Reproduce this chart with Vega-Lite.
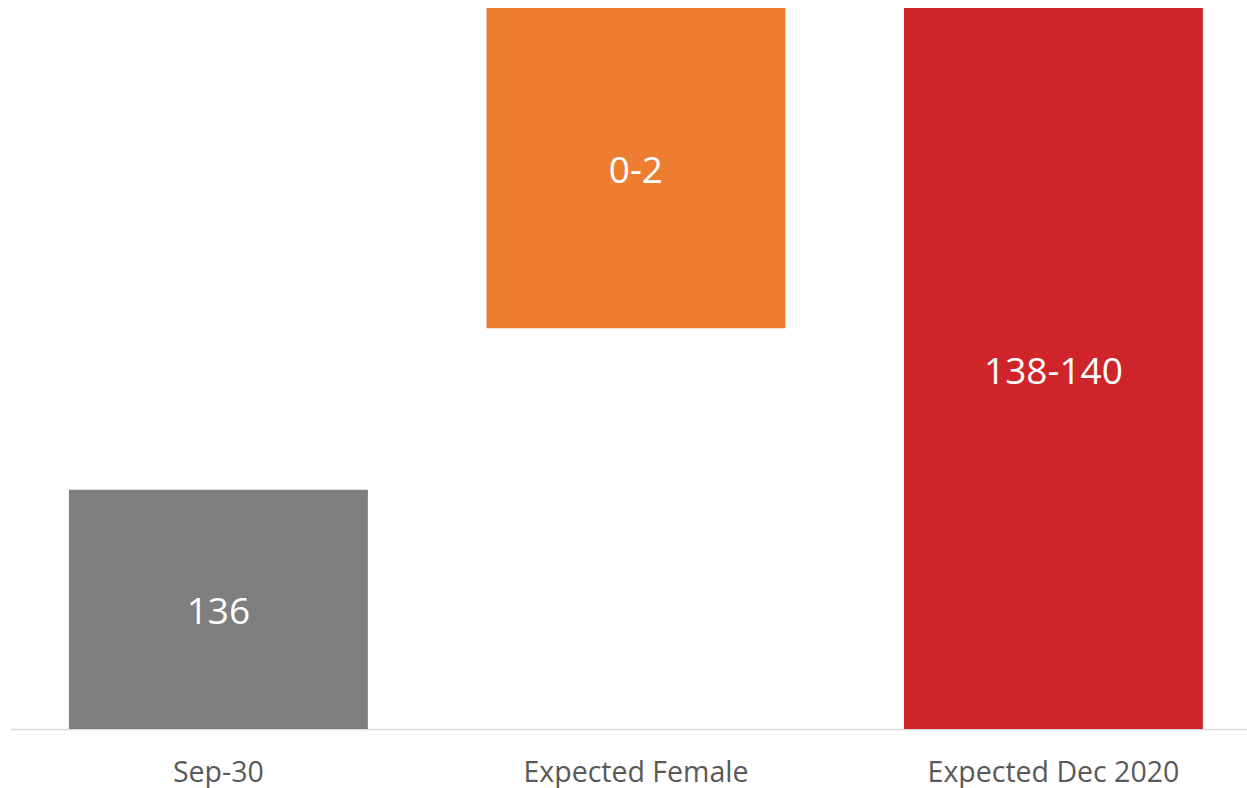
{
  "$schema": "https://vega.github.io/schema/vega-lite/v6.json",
  "autosize": "none",
  "width": 1237,
  "height": 721,
  "padding": {"left": 10, "top": 8, "right": 0, "bottom": 59},
  "background": "white",
  "config": {"view": {"stroke": null}},
  "data": {
    "values": [
      {"category": "Sep-30", "start": 134, "end": 135.99, "label": "136", "kind": "base"},
      {"category": "Expected Female", "start": 137.335, "end": 140, "label": "0-2", "kind": "change"},
      {"category": "Expected Dec 2020", "start": 134, "end": 140, "label": "138-140", "kind": "total"}
    ]
  },
  "transform": [{"calculate": "(datum.start + datum.end) / 2", "as": "mid"}],
  "encoding": {
    "x": {
      "field": "category",
      "type": "nominal",
      "sort": null,
      "scale": {"paddingInner": 0.284, "paddingOuter": 0.1234, "align": 0.572},
      "axis": {
        "title": null,
        "labelAngle": 0,
        "ticks": false,
        "domainColor": "#d9d9d9",
        "domainWidth": 1.5,
        "labelFont": "Open Sans",
        "labelFontSize": 28.5,
        "labelColor": "#595959",
        "labelPadding": 29,
        "labelLimit": 0
      }
    }
  },
  "layer": [
    {
      "mark": {"type": "bar", "clip": true},
      "encoding": {
        "y": {"field": "start", "type": "quantitative", "scale": {"domain": [134, 140], "nice": false, "zero": false}, "axis": null},
        "y2": {"field": "end"},
        "color": {
          "field": "kind",
          "type": "nominal",
          "scale": {"domain": ["base", "change", "total"], "range": ["#7f7f7f", "#ed7d31", "#cf2429"]},
          "legend": null
        }
      }
    },
    {
      "mark": {"type": "text", "font": "Open Sans", "fontSize": 37, "color": "white", "baseline": "middle", "align": "center", "dy": 4},
      "encoding": {
        "y": {"field": "mid", "type": "quantitative"},
        "text": {"field": "label"}
      }
    }
  ]
}
